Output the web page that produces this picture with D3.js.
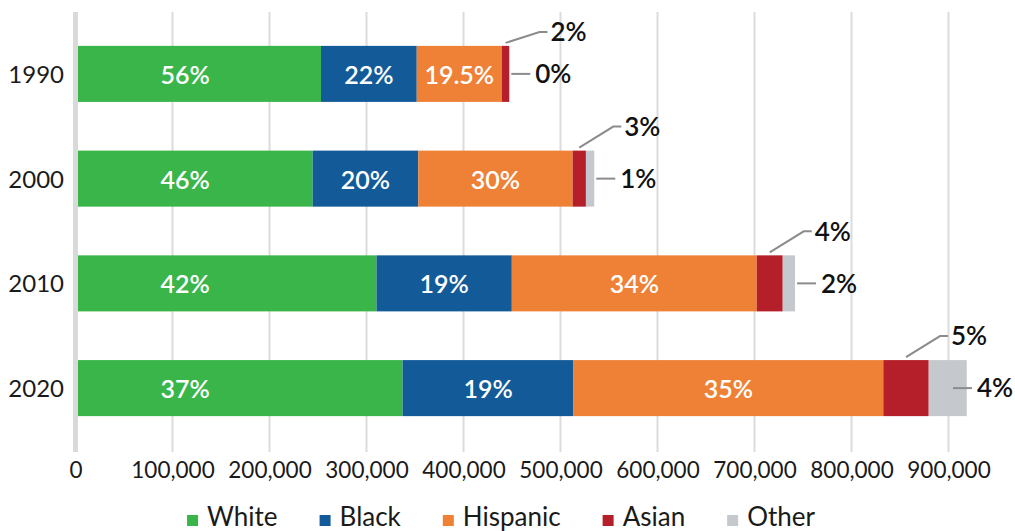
<!DOCTYPE html>
<html>
<head>
<meta charset="utf-8">
<script src="https://cdn.jsdelivr.net/npm/d3@7"></script>
<style>
  html, body { margin: 0; padding: 0; background: #fff; }
  svg { display: block; font-family: Lato, "Open Sans", sans-serif; }
</style>
</head>
<body>
<svg id="chart" width="1015" height="531"></svg>
<script>
// Population by race / ethnicity, census years
const years = ["1990", "2000", "2010", "2020"];
const groups = ["White", "Black", "Hispanic", "Asian", "Other"];

const white    = [253100, 244500, 310300, 337200];
const black    = [98700, 108900, 139500, 176200];
const hispanic = [87600, 159100, 252500, 319400];
const asian    = [7800, 13700, 26800, 46800];
const other    = [0, 8600, 12700, 39200];

const whiteShare    = ["56%", "46%", "42%", "37%"];
const blackShare    = ["22%", "20%", "19%", "19%"];
const hispanicShare = ["19.5%", "30%", "34%", "35%"];
const asianShare    = ["2%", "3%", "4%", "5%"];
const otherShare    = ["0%", "1%", "2%", "4%"];

const xTicks = [0, 100000, 200000, 300000, 400000, 500000, 600000, 700000, 800000, 900000];

const colors = {
  White: "#39b54a",
  Black: "#135b98",
  Hispanic: "#ef8136",
  Asian: "#b41f29",
  Other: "#c5c8cc"
};

const W = 1015, H = 531;
const svg = d3.select("#chart");

const rows = years.map((yr, i) => ({
  year: yr,
  White: white[i], Black: black[i], Hispanic: hispanic[i], Asian: asian[i], Other: other[i],
  labels: {
    White: whiteShare[i], Black: blackShare[i], Hispanic: hispanicShare[i],
    Asian: asianShare[i], Other: otherShare[i]
  }
}));

const x = d3.scaleLinear().domain([0, 900000]).range([75.5, 948.5]);
const y = d3.scaleBand().domain(years).range([11, 451]).paddingInner(0.465).paddingOuter(0.333);

const gridTop = 12, gridBottom = 452;

// vertical gridlines
svg.append("g")
  .selectAll("line")
  .data(xTicks.slice(1))
  .join("line")
  .attr("x1", d => x(d)).attr("x2", d => x(d))
  .attr("y1", gridTop).attr("y2", gridBottom)
  .attr("stroke", "#dcdcdc").attr("stroke-width", 2);

// x axis tick labels
const xAxis = d3.axisBottom(x)
  .tickValues(xTicks)
  .tickFormat(d3.format(","))
  .tickSize(0)
  .tickPadding(0);
const gx = svg.append("g")
  .attr("transform", `translate(0,${gridBottom})`)
  .call(xAxis);
gx.select(".domain").remove();
gx.selectAll("text")
  .attr("y", 26).attr("dy", 0)
  .attr("font-family", "Lato, sans-serif")
  .attr("font-size", 22.5)
  .attr("fill", "#1a1a1a");

// stacked bars
const stack = d3.stack().keys(groups);
const series = stack(rows);

svg.append("g")
  .selectAll("g")
  .data(series)
  .join("g")
  .attr("fill", s => colors[s.key])
  .selectAll("rect")
  .data(s => s.map(d => ({ key: s.key, d })))
  .join("rect")
  .attr("x", o => x(o.d[0]))
  .attr("width", o => x(o.d[1]) - x(o.d[0]))
  .attr("y", o => y(o.d.data.year))
  .attr("height", y.bandwidth());

// baseline axis at zero
svg.append("line")
  .attr("x1", x(0)).attr("x2", x(0))
  .attr("y1", gridTop).attr("y2", gridBottom)
  .attr("stroke", "#d9d9d9").attr("stroke-width", 5);

// year labels
const yAxis = d3.axisLeft(y).tickSize(0).tickPadding(0);
const gy = svg.append("g").attr("transform", `translate(64,0)`).call(yAxis);
gy.select(".domain").remove();
gy.selectAll("text")
  .attr("font-family", "Lato, sans-serif")
  .attr("font-size", 24)
  .attr("fill", "#1a1a1a")
  .attr("dy", "0.38em");

// share labels inside the large segments
const whiteLabelAt = 113000;
const inside = ["White", "Black", "Hispanic"];
const insideLabels = [];
series.filter(s => inside.includes(s.key)).forEach(s => {
  s.forEach(d => {
    insideLabels.push({
      text: d.data.labels[s.key],
      cx: s.key === "White" ? x(whiteLabelAt) : (x(d[0]) + x(d[1])) / 2,
      cy: y(d.data.year) + y.bandwidth() / 2
    });
  });
});
svg.append("g")
  .selectAll("text")
  .data(insideLabels)
  .join("text")
  .attr("x", d => d.cx)
  .attr("y", d => d.cy)
  .attr("dy", "0.4em")
  .attr("text-anchor", "middle")
  .attr("font-family", "Lato, sans-serif")
  .attr("font-size", 25)
  .attr("font-weight", 600)
  .attr("fill", "#fff")
  .text(d => d.text);

// callouts for the small segments
const asianSeries = series.find(s => s.key === "Asian");
const otherSeries = series.find(s => s.key === "Other");
const callouts = svg.append("g");
const leaderColor = "#8c8c8c";

asianSeries.forEach(d => {
  const top = y(d.data.year);
  const sx = (x(d[0]) + x(d[1])) / 2;
  const sy = top - 3;
  const ex = sx + 34;
  const ey = Math.max(top - 24, 32);
  callouts.append("polyline")
    .attr("points", `${sx},${sy} ${ex},${ey} ${ex + 8},${ey}`)
    .attr("fill", "none")
    .attr("stroke", leaderColor)
    .attr("stroke-width", 2);
  callouts.append("text")
    .attr("x", ex + 11).attr("y", ey).attr("dy", "0.36em")
    .attr("font-family", "Lato, sans-serif")
    .attr("font-size", 26).attr("font-weight", 600)
    .attr("fill", "#111")
    .text(d.data.labels.Asian);
});

otherSeries.forEach(d => {
  const cy = y(d.data.year) + y.bandwidth() / 2;
  const sx = Math.min(x(d[1]) + 2, W - 62);
  callouts.append("line")
    .attr("x1", sx).attr("x2", sx + 19)
    .attr("y1", cy).attr("y2", cy)
    .attr("stroke", leaderColor)
    .attr("stroke-width", 2);
  callouts.append("text")
    .attr("x", sx + 24).attr("y", cy).attr("dy", "0.36em")
    .attr("font-family", "Lato, sans-serif")
    .attr("font-size", 26).attr("font-weight", 600)
    .attr("fill", "#111")
    .text(d.data.labels.Other);
});

// legend
const legend = svg.append("g");
const items = groups.map(g => {
  const it = legend.append("g");
  it.append("rect").attr("width", 11).attr("height", 11).attr("y", -11).attr("fill", colors[g]);
  const t = it.append("text")
    .attr("x", 20).attr("y", 0)
    .attr("font-family", "Lato, sans-serif")
    .attr("font-size", 26)
    .attr("fill", "#1a1a1a")
    .text(g);
  return { it, w: 20 + t.node().getComputedTextLength() };
});
const gap = 42;
const total = d3.sum(items, d => d.w) + gap * (items.length - 1);
let lx = 501 - total / 2;
items.forEach(d => {
  d.it.attr("transform", `translate(${lx},526)`);
  lx += d.w + gap;
});
</script>
</body>
</html>
